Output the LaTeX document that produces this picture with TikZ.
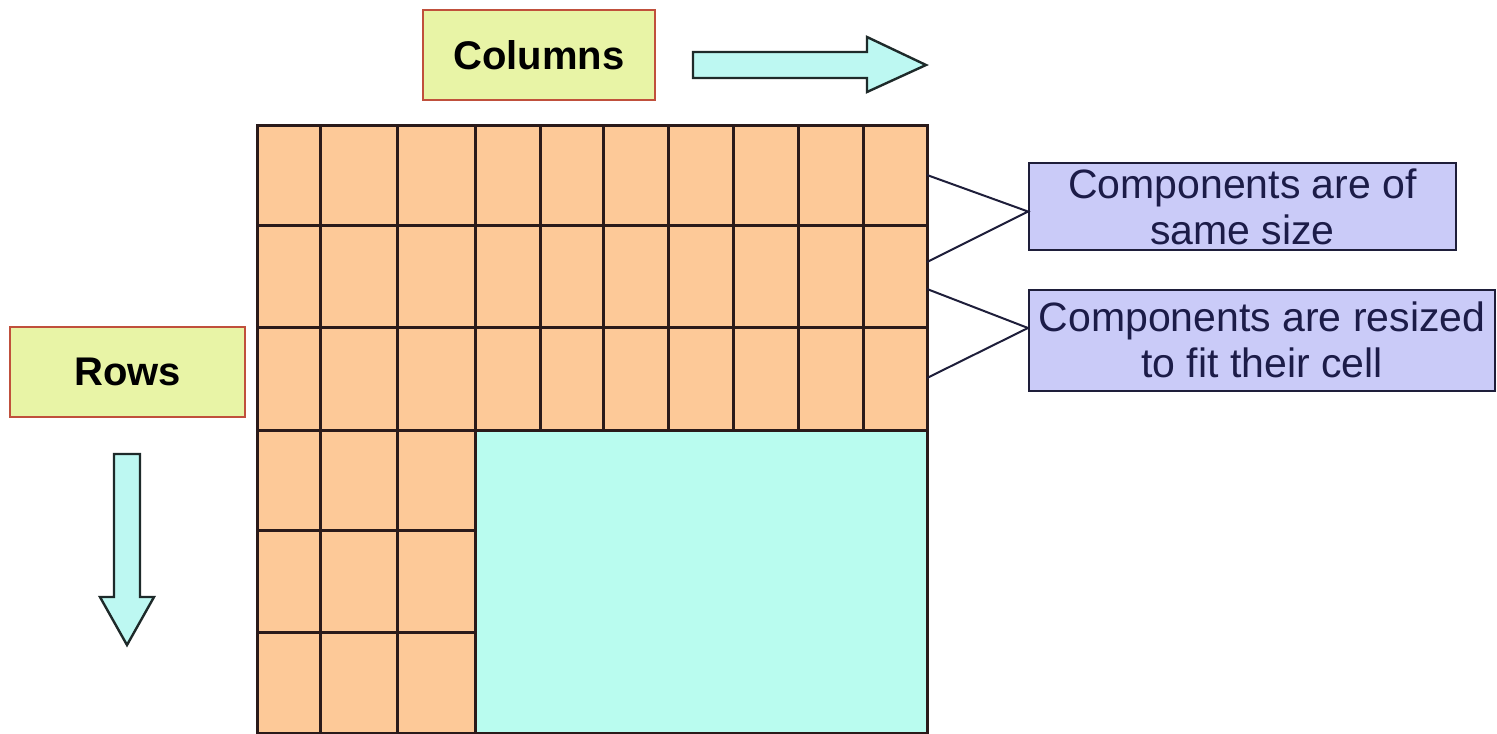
\documentclass[tikz,border=0pt]{standalone}
\usepackage{fontspec}
\setmainfont{Liberation Sans}
\definecolor{cellorange}{HTML}{FDC998}
\definecolor{cellcyan}{HTML}{B9FCEF}
\definecolor{gridline}{HTML}{2A1A1A}
\definecolor{titlefill}{HTML}{E8F4A6}
\definecolor{titleedge}{HTML}{C0503C}
\definecolor{notefill}{HTML}{CACBF8}
\definecolor{noteedge}{HTML}{1E1E3A}
\definecolor{notetext}{HTML}{1C1C48}
\definecolor{arrowfill}{HTML}{BDF8F2}
\definecolor{arrowedge}{HTML}{1E2A2A}
\tikzset{
  cellbox/.style={draw=gridline, line width=1.5pt, fill=cellorange},
  bigcell/.style={draw=gridline, line width=1.5pt, fill=cellcyan},
  titlebox/.style={draw=titleedge, line width=1pt, fill=titlefill, inner sep=0pt,
    font=\fontsize{20}{24}\selectfont\bfseries},
  notebox/.style={draw=noteedge, line width=1pt, fill=notefill, inner sep=0pt,
    align=center, text=notetext, font=\fontsize{20.5}{23}\selectfont},
  flowarrow/.style={draw=arrowedge, line width=1.2pt, fill=arrowfill, line join=miter},
  leader/.style={draw=noteedge, line width=1pt}
}
\begin{document}
\begin{tikzpicture}[x=0.5pt, y=-0.5pt]
\useasboundingbox (0,0) rectangle (1497,733);
% grid: top three full rows
\foreach \ya/\yb in {125/225,225/327,327/430}{
  \foreach \xa/\xb in {257/320,320/397,397/475,475/540,540/603,603/668,668/733,733/798,798/863,863/927}{
    \path[cellbox] (\xa,\ya) rectangle (\xb,\yb);
  }
}
% lower rows: first three columns
\foreach \ya/\yb in {430/530,530/632,632/733}{
  \foreach \xa/\xb in {257/320,320/397,397/475}{
    \path[cellbox] (\xa,\ya) rectangle (\xb,\yb);
  }
}
% big cell
\path[bigcell] (475,430) rectangle (927,733);

% title boxes
\node[titlebox, minimum width=116pt, minimum height=45pt] (cols) at (539,55) {Columns};
\node[titlebox, minimum width=117.5pt, minimum height=45pt] (rows) at (127.5,372) {Rows};

% arrows
\path[flowarrow] (693,52) -- (867,52) -- (867,37) -- (926,65) -- (867,92) -- (867,78) -- (693,78) -- cycle;
\path[flowarrow] (114,454) -- (140,454) -- (140,597) -- (154,597) -- (127,645) -- (100,597) -- (114,597) -- cycle;

% note boxes
\node[notebox, minimum width=213.5pt, minimum height=43.5pt] (same) at (1242.5,206.5)
  {Components are of\\same size};
\node[notebox, minimum width=233pt, minimum height=50.5pt] (resz) at (1262,340)
  {Components are resized\\to fit their cell};

% leader lines
\coordinate (s1) at (927,175);
\coordinate (s2) at (927,262);
\coordinate (r1) at (927,289);
\coordinate (r2) at (927,378);
\draw[leader] (s1) -- ([yshift=-2.5pt]same.west) -- (s2);
\draw[leader] (r1) -- ([yshift=6pt]resz.west);
\draw[leader] (r2) -- ([yshift=6pt]resz.west);
\end{tikzpicture}
\end{document}
